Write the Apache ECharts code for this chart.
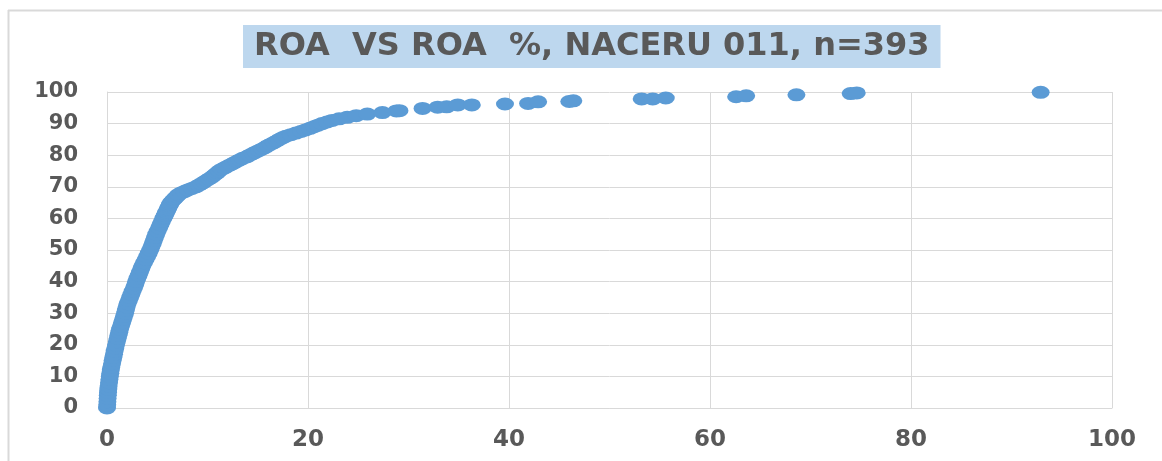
<!DOCTYPE html>
<html>
<head>
    <meta charset="utf-8">
    <title>ROA VS ROA %</title>
    <script src="https://cdn.jsdelivr.net/npm/echarts@6/dist/echarts.min.js"></script>
</head>
<style>
    body { margin:0; background:#fff; }
    #main { width:1162px; height:461px; }
</style>
<body>
<div id="main"></div>
<script type="text/javascript">
    // ROA values (x) and cumulative share in % (y)
    var roaX = [
        0.00,0.02,0.04,0.06,0.08,0.10,0.13,0.16,0.20,0.24,
        0.28,0.33,0.38,0.43,0.50,0.56,0.63,0.70,0.76,0.83,
        0.90,0.98,1.06,1.14,1.22,1.30,1.40,1.50,1.60,1.70,
        1.80,1.88,1.95,2.05,2.18,2.30,2.42,2.55,2.68,2.80,
        2.90,3.02,3.15,3.28,3.40,3.52,3.68,3.84,4.00,4.15,
        4.30,4.42,4.55,4.66,4.78,4.90,5.04,5.18,5.32,5.46,
        5.60,5.68,5.75,5.83,5.90,5.98,6.05,6.12,6.20,6.28,
        6.36,6.50,6.65,6.80,6.95,7.10,7.35,7.70,8.05,8.45,
        8.85,9.15,9.40,9.65,9.90,10.15,10.40,10.60,10.80,11.00,
        11.15,11.40,11.70,12.00,12.30,12.60,12.90,13.20,13.50,13.90,
        14.20,14.50,14.80,15.15,15.45,15.75,16.00,16.30,16.60,16.90,
        17.15,17.45,17.80,18.30,18.80,19.30,19.75,20.20,20.60,21.00,
        21.40,21.90,22.40,23.10,23.90,24.80,25.90,27.40,28.80,
        29.1,31.4,32.9,33.8,34.9,36.3,39.6,41.9,42.9,46.0,46.4,
        53.2,54.3,55.6,62.6,63.6,68.6,74.0,74.6,92.9
    ];
    var shareY = [
        0,1,2,3,4,5,6,7,8,9,
        10,11,12,13,14,15,16,17,18,19,
        20,21,22,23,24,25,26,27,28,29,
        30,31,32,33,34,35,36,37,38,39,
        40,41,42,43,44,45,46,47,48,49,
        50,51,52,53,54,55,56,57,58,59,
        60,60.5,61,61.5,62,62.5,63,63.5,64,64.5,
        65,65.5,66,66.5,67,67.5,68,68.5,69,69.5,
        70,70.5,71,71.5,72,72.5,73,73.5,74,74.5,
        75,75.5,76,76.5,77,77.5,78,78.5,79,79.5,
        80,80.5,81,81.5,82,82.5,83,83.5,84,84.5,
        85,85.5,86,86.5,87,87.5,88,88.5,89,89.5,
        90,90.5,91,91.5,92,92.5,93,93.5,94,
        94.1,94.8,95.2,95.3,95.9,95.9,96.2,96.4,96.9,97.0,97.2,
        97.8,97.8,98.1,98.5,98.8,99.1,99.5,99.7,99.9
    ];
    var xTicks = [0, 20, 40, 60, 80, 100];
    var yTicks = [0, 10, 20, 30, 40, 50, 60, 70, 80, 90, 100];

    var points = [];
    for (var i = 0; i < roaX.length; i++) {
        points.push([roaX[i], shareY[i]]);
    }

    var myChart = echarts.init(document.getElementById('main'));
    var option = {
        animation: false,
        title: {
            text: 'ROA  VS ROA  %, NACERU 011, n=393',
            left: 243,
            top: 25,
            padding: [6, 11, 5, 11],
            backgroundColor: '#BDD7EE',
            textStyle: {
                fontFamily: 'DejaVu Sans',
                fontWeight: 'bold',
                fontSize: 32,
                lineHeight: 32,
                color: '#595959'
            }
        },
        graphic: [
            { type: 'line', shape: { x1: 8.5, y1: 10, x2: 8.5, y2: 461 }, style: { stroke: '#D9D9D9', lineWidth: 2 } },
            { type: 'line', shape: { x1: 8, y1: 10.5, x2: 1162, y2: 10.5 }, style: { stroke: '#D9D9D9', lineWidth: 2 } }
        ],
        grid: { left: 107, right: 50, top: 92, bottom: 53 },
        xAxis: {
            type: 'value',
            min: xTicks[0],
            max: xTicks[xTicks.length - 1],
            interval: 20,
            axisLine: { show: true, lineStyle: { color: '#D9D9D9', width: 1 } },
            axisTick: { show: false },
            splitLine: { show: true, lineStyle: { color: '#D9D9D9', width: 1 } },
            axisLabel: {
                margin: 21,
                fontFamily: 'DejaVu Sans',
                fontWeight: 'bold',
                fontSize: 23,
                color: '#595959'
            }
        },
        yAxis: {
            type: 'value',
            min: yTicks[0],
            max: yTicks[yTicks.length - 1],
            interval: 10,
            axisLine: { show: true, lineStyle: { color: '#D9D9D9', width: 1 } },
            axisTick: { show: false },
            splitLine: { show: true, lineStyle: { color: '#D9D9D9', width: 1 } },
            axisLabel: {
                margin: 29,
                fontFamily: 'DejaVu Sans',
                fontWeight: 'bold',
                fontSize: 21,
                color: '#595959'
            }
        },
        series: [
            {
                type: 'scatter',
                data: points,
                symbol: 'path://M0,50 A50,50 0 1,1 100,50 A50,50 0 1,1 0,50 Z',
                symbolSize: [18, 13],
                itemStyle: { color: '#5B9BD5', opacity: 1 }
            }
        ]
    };
    myChart.setOption(option);
</script>
</body>
</html>
